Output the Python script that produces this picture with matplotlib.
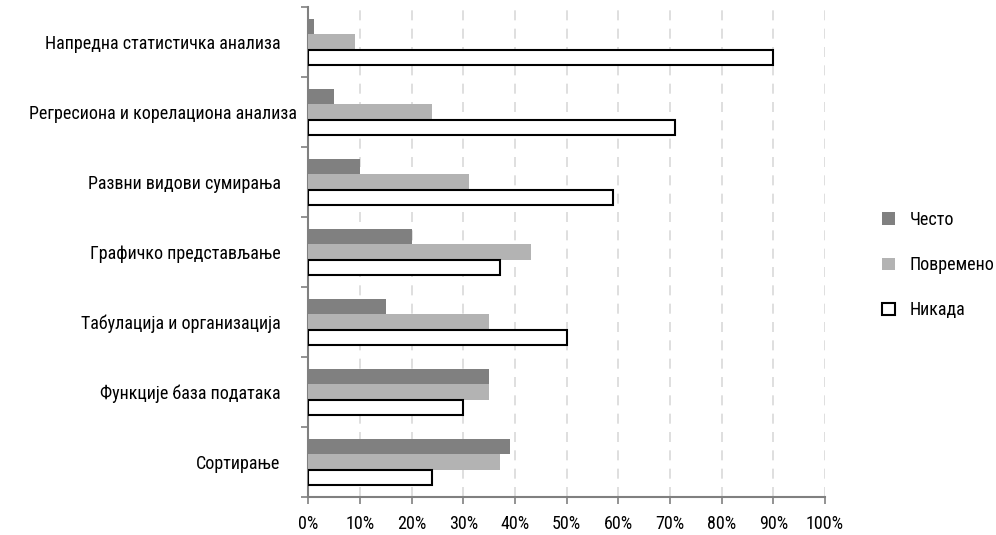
import numpy as np
import matplotlib
matplotlib.use("Agg")
from matplotlib import pyplot as plt
from matplotlib import font_manager
from matplotlib.ticker import FixedLocator, PercentFormatter
from matplotlib.transforms import ScaledTranslation

# pick a condensed sans with Cyrillic glyphs
names = set(f.name for f in font_manager.fontManager.ttflist)
for cand in ["Liberation Sans Narrow", "Arial Narrow", "Roboto Condensed",
             "PT Sans Narrow", "Open Sans Condensed", "Liberation Sans"]:
    if cand in names:
        font = cand
        break
plt.rcParams["font.family"] = [font, "DejaVu Sans"]

categories = ["Напредна статистичка анализа", "Регресиона и корелациона анализа",
              "Развни видови сумирања", "Графичко представљање",
              "Табулација и организација", "Функције база података", "Сортирање"]
often = [1, 5, 10, 20, 15, 35, 39]
sometimes = [9, 24, 31, 43, 35, 35, 37]
never = [90, 71, 59, 37, 50, 30, 24]
series_names = ["Често", "Повремено", "Никада"]

fs = 13

fig = plt.figure(figsize=(9.96, 5.35), dpi=100)
ax = fig.add_axes([0.3097, 0.071, 0.5185, 0.916])

y = np.arange(len(categories))
h = 0.22
ax.barh(y - h, often, height=h, color="#808080", label=series_names[0], zorder=3)
ax.barh(y, sometimes, height=h, color="#b3b3b3", label=series_names[1], zorder=3)
ax.barh(y + h, never, height=h, color="white", edgecolor="black", linewidth=1.5,
        label=series_names[2], zorder=3)

ax.set_xlim(0, 100)
ax.set_ylim(len(categories) - 0.5, -0.5)
ax.set_xticks(np.arange(0, 101, 10))
ax.xaxis.set_major_formatter(PercentFormatter(decimals=0))
ax.set_yticks(y)
ax.set_yticklabels(categories)
ax.yaxis.set_minor_locator(FixedLocator(np.arange(-0.5, len(categories), 1)))
ax.tick_params(axis="y", which="major", length=0, pad=20, labelsize=fs)
ax.tick_params(axis="y", which="minor", length=5, color="#808080", width=1.2)
ax.tick_params(axis="x", length=5, color="#808080", width=1.2, labelsize=fs, pad=8)

# the longest label doesn't fit and sits a bit closer to the axis
lbl = ax.get_yticklabels()[1]
lbl.set_transform(lbl.get_transform() + ScaledTranslation(0.16, 0, fig.dpi_scale_trans))

ax.grid(axis="x", color="#d9d9d9", linestyle=(0, (6, 5)), linewidth=1.2, zorder=0)
for s in ["top", "right"]:
    ax.spines[s].set_visible(False)
for s in ["left", "bottom"]:
    ax.spines[s].set_color("#808080")
    ax.spines[s].set_linewidth(1.5)

ax.legend(loc="center left", bbox_to_anchor=(1.08, 0.473), frameon=False,
          fontsize=fs, handlelength=0.7, handleheight=0.7, handletextpad=0.8,
          labelspacing=1.5)

fig.savefig("out.png", dpi=100)
